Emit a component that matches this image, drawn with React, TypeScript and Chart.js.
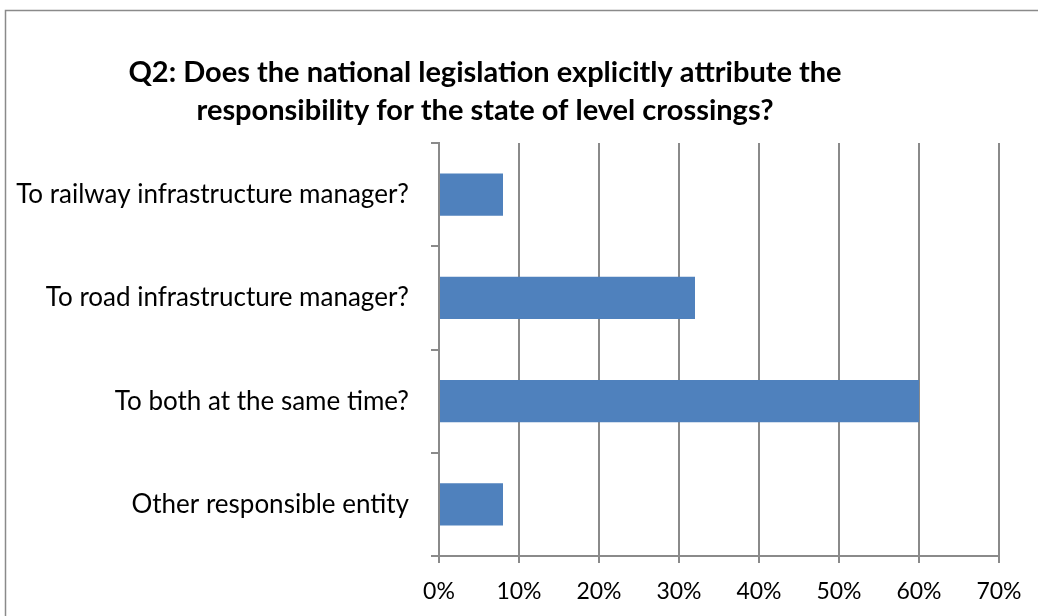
import React, { useEffect, useRef } from "react";
import { Chart, registerables } from "chart.js";

Chart.register(...registerables);

const categories = [
  "To railway infrastructure manager?",
  "To road infrastructure manager?",
  "To both at the same time?",
  "Other responsible entity",
];
const values = [8, 32, 60, 8];
const xMin = 0;
const xMax = 70;
const xStep = 10;
const titleLines = [
  "Q2: Does the national legislation explicitly attribute the",
  "responsibility for the state of level crossings?",
];

const FONT = "Lato, 'Open Sans', sans-serif";

const framePlugin = {
  id: "frameTitle",
  beforeDraw(chart: any) {
    const ctx = chart.ctx;
    ctx.save();
    ctx.fillStyle = "#ffffff";
    ctx.fillRect(0, 0, chart.width, chart.height);
    ctx.strokeStyle = "#8a8a8a";
    ctx.lineWidth = 1.5;
    ctx.strokeRect(5.5, 10.5, chart.width + 50, chart.height + 50);
    ctx.restore();
  },
  afterDraw(chart: any) {
    const ctx = chart.ctx;
    ctx.save();
    ctx.fillStyle = "#000000";
    ctx.font = `bold 29px ${FONT}`;
    ctx.textAlign = "center";
    ctx.textBaseline = "middle";
    ctx.fillText(titleLines[0], 485, 73);
    ctx.fillText(titleLines[1], 485, 111);
    ctx.restore();
  },
};

export default function App() {
  const ref = useRef<HTMLCanvasElement>(null);
  useEffect(() => {
    if (!ref.current) return;
    const chart = new Chart(ref.current, {
      type: "bar",
      data: {
        labels: categories,
        datasets: [
          {
            data: values,
            backgroundColor: "#4F81BD",
            borderColor: "#4F81BD",
            borderWidth: 0,
            barPercentage: 0.41,
            categoryPercentage: 1,
          },
        ],
      },
      options: {
        indexAxis: "y",
        responsive: false,
        animation: false,
        layout: { padding: { top: 143, right: 39, left: 0, bottom: 0 } },
        plugins: {
          legend: { display: false },
          title: { display: false },
          tooltip: { enabled: false },
        },
        scales: {
          x: {
            min: xMin,
            max: xMax,
            ticks: {
              stepSize: xStep,
              callback: (v: any) => `${v}%`,
              color: "#000",
              font: { family: FONT, size: 23 },
              padding: 15,
            },
            grid: {
              color: "#8a8a8a",
              lineWidth: 2,
              tickLength: 7,
              drawTicks: true,
            },
            border: { display: true, color: "#8a8a8a", width: 2 },
            afterFit: (s: any) => {
              s.height = 60;
            },
          },
          y: {
            offset: true,
            ticks: {
              color: "#000",
              font: { family: FONT, size: 26 },
              padding: 22,
            },
            grid: {
              offset: true,
              drawOnChartArea: false,
              drawTicks: true,
              tickLength: 8,
              color: "#8a8a8a",
              lineWidth: 2,
            },
            border: { display: true, color: "#8a8a8a", width: 2 },
            afterFit: (s: any) => {
              s.width = 439;
            },
          },
        },
      },
      plugins: [framePlugin],
    });
    return () => chart.destroy();
  }, []);
  return (
    <div style={{ position: "absolute", left: 0, top: 0, width: 1038, height: 616, overflow: "hidden" }}>
      <canvas ref={ref} width={1038} height={616} style={{ display: "block" }} />
    </div>
  );
}
